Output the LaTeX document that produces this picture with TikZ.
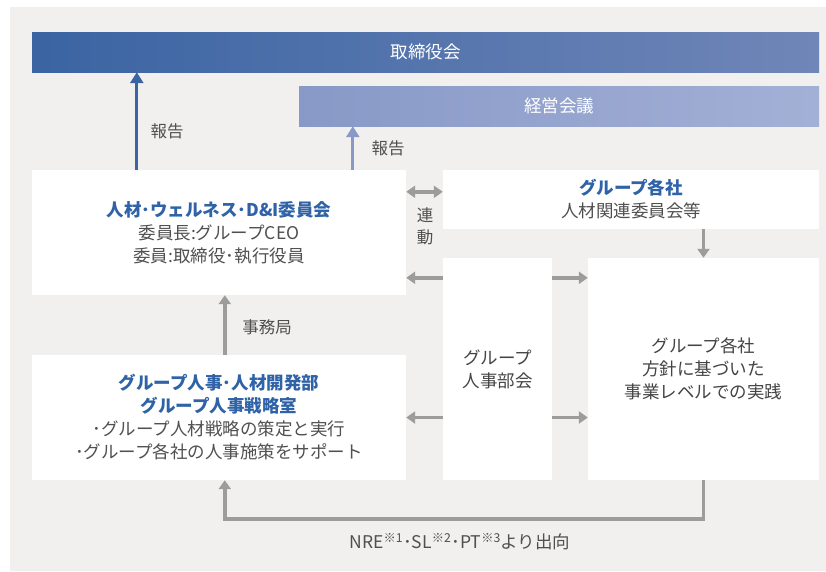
\documentclass[tikz,border=0pt]{standalone}
\usepackage{fontspec}
\setmainfont{Noto Sans CJK JP}
\usetikzlibrary{arrows.meta,calc}
\definecolor{bgray}{HTML}{F1F0EE}
\definecolor{dblue}{HTML}{3A64A2}
\definecolor{dblueR}{HTML}{7086B8}
\definecolor{lblue}{HTML}{8899C7}
\definecolor{lblueR}{HTML}{A3B0D6}
\definecolor{tblue}{HTML}{2F62A6}
\definecolor{tgray}{HTML}{505050}
\definecolor{agray}{HTML}{9C9C9C}

\begin{document}
\begin{tikzpicture}[x=1pt,y=-1pt,
    box/.style={fill=white, inner sep=0pt, align=center, text=tgray, font=\fontsize{17.5}{23}\selectfont},
    bar/.style={inner sep=0pt, minimum height=40pt, text=white, font=\fontsize{17.5}{20}\selectfont},
    lbl/.style={text=tgray, align=center, font=\fontsize{16.5}{22}\selectfont},
    garrow/.style={draw=agray, line width=3.5pt, -{Triangle[width=12pt,length=9pt]}},
    barrow/.style={line width=3pt, -{Triangle[width=13pt,length=11pt]}}]
    \useasboundingbox (0,0) rectangle (826,571);
    \fill[bgray] (10,7) rectangle (826,571);
    % top bars
    \node[bar, minimum width=787pt, left color=dblue, right color=dblueR] (board) at (425.5,52) {取締役会};
    \node[bar, minimum width=520pt, left color=lblue, right color=lblueR] (mgmt) at (559,106) {経営会議};
    % boxes
    \node[box, minimum width=374pt, minimum height=125pt] (comm) at (219,232.5)
        {{\color{tblue}\bfseries 人材･ウェルネス･D\&I委員会}\\委員長:グループCEO\\委員:取締役･執行役員};
    \node[box, minimum width=376pt, minimum height=59pt] (grpco) at (631,199.5)
        {{\color{tblue}\bfseries グループ各社}\\人材関連委員会等};
    \node[box, minimum width=109pt, minimum height=222pt, text=tgray!85!black] (hrmeet) at (497.5,369) {グループ\\人事部会};
    \node[box, minimum width=231pt, minimum height=222pt, text=tgray!85!black] (practice) at (703.5,369)
        {グループ各社\\方針に基づいた\\事業レベルでの実践};
    \node[box, minimum width=374pt, minimum height=125pt] (hrdept) at (219,417.5)
        {{\color{tblue}\bfseries グループ人事･人材開発部}\\{\color{tblue}\bfseries グループ人事戦略室}\\･グループ人材戦略の策定と実行\\･グループ各社の人事施策をサポート};
    % reports
    \coordinate (r1) at ($(comm.north west)+(105,0)$);
    \coordinate (r2) at ($(comm.north west)+(321,0)$);
    \draw[barrow, dblue] (r1) -- (r1 |- board.south);
    \draw[barrow, lblue] (r2) -- (r2 |- mgmt.south);
    \node[lbl] (rep1) at (167,131) {報告};
    \node[lbl] (rep2) at (388,148) {報告};
    % grey links
    \draw[garrow, {Triangle[width=12pt,length=9pt]}-{Triangle[width=12pt,length=9pt]}]
        ($(comm.north east)+(0,22)$) coordinate (c3) -- (c3 -| grpco.west);
    \node[lbl] (link) at (425,226) {連\\動};
    \draw[garrow] (grpco.south -| practice.north) -- (practice.north);
    \draw[garrow] ($(hrmeet.north west)+(0,20)$) coordinate (c1) -- (c1 -| comm.east);
    \draw[garrow] ($(hrmeet.north east)+(0,20)$) coordinate (c2) -- (c2 -| practice.west);
    \draw[garrow] (hrmeet.west |- hrdept.east) -- (hrdept.east);
    \draw[garrow] (hrmeet.east |- hrdept.east) -- (hrdept.east -| practice.west);
    \coordinate (c4) at ($(hrdept.north west)+(193,0)$);
    \draw[garrow] (c4) -- (c4 |- comm.south);
    \node[lbl] (office) at (267,327) {事務局};
    \coordinate (c5) at ($(hrdept.south west)+(193,0)$);
    \draw[garrow] (practice.south) -- ++(0,39) -| (c5);
    \node[lbl, font=\fontsize{17.5}{22}\selectfont] (dispatch) at (460,542) {NRE\textsuperscript{※1}･SL\textsuperscript{※2}･PT\textsuperscript{※3}より出向};
\end{tikzpicture}
\end{document}
